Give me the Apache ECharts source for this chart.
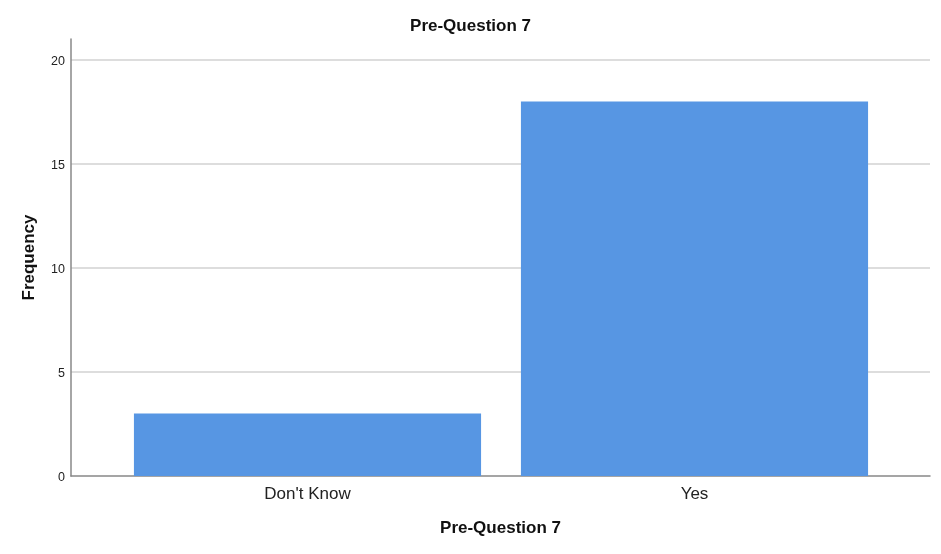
<!DOCTYPE html>
<html>
<head>
<meta charset="utf-8">
<script src="https://cdn.jsdelivr.net/npm/echarts@6/dist/echarts.min.js"></script>
<style>
    html, body {margin: 0; padding: 0; background: #fff;}
    #chart {width: 941px; height: 554px;}
</style>
</head>
<body>
<div id="chart"></div>
<script>
    // 数据
    var categories = ["Don't Know", 'Yes'];
    var frequency = [3, 18];
    var yMax = 21;
    var yStep = 5;

    var fontFamily = "'Liberation Sans', Arial, sans-serif";

    var myChart = echarts.init(document.getElementById('chart'));

    option = {
        backgroundColor: '#ffffff',
        animation: false,
        title: {
            text: 'Pre-Question 7',
            left: 'center',
            top: 13,
            textStyle: {
                fontFamily: fontFamily,
                fontSize: 17,
                fontWeight: 'bold',
                color: '#111'
            }
        },
        grid: [
            // 坐标轴外框
            {left: 71, right: 11, top: 39, bottom: 78},
            // 柱子区域
            {left: 114, right: 53, top: 39, bottom: 78}
        ],
        xAxis: [
            {
                type: 'value',
                gridIndex: 0,
                min: 0,
                max: 1,
                name: 'Pre-Question 7',
                nameLocation: 'middle',
                nameGap: 44,
                nameTextStyle: {
                    fontFamily: fontFamily,
                    fontSize: 17,
                    fontWeight: 'bold',
                    color: '#111'
                },
                axisLine: {show: true, lineStyle: {color: '#888', width: 1.5}},
                axisTick: {show: false},
                axisLabel: {show: false},
                splitLine: {show: false}
            },
            {
                type: 'category',
                gridIndex: 1,
                data: categories,
                axisLine: {show: false},
                axisTick: {show: false},
                axisLabel: {
                    margin: 10,
                    fontFamily: fontFamily,
                    fontSize: 17,
                    color: '#222'
                }
            }
        ],
        yAxis: [
            {
                type: 'value',
                gridIndex: 0,
                min: 0,
                max: yMax,
                interval: yStep,
                name: 'Frequency',
                nameLocation: 'middle',
                nameGap: 33,
                nameTextStyle: {
                    fontFamily: fontFamily,
                    fontSize: 17,
                    fontWeight: 'bold',
                    color: '#111'
                },
                axisLine: {show: true, lineStyle: {color: '#888', width: 1.5}},
                axisTick: {show: false},
                axisLabel: {
                    margin: 6,
                    fontFamily: fontFamily,
                    fontSize: 12.5,
                    color: '#222',
                    verticalAlign: 'top',
                    padding: [-5, 0, 0, 0],
                    formatter: function (v) {
                        return v % yStep === 0 ? v : '';
                    }
                },
                splitLine: {
                    show: true,
                    showMinLine: false,
                    showMaxLine: false,
                    lineStyle: {color: '#d2d2d2', width: 1.5}
                }
            },
            {
                type: 'value',
                gridIndex: 1,
                min: 0,
                max: yMax,
                show: false
            }
        ],
        series: [
            {
                name: 'Frequency',
                type: 'bar',
                xAxisIndex: 1,
                yAxisIndex: 1,
                barCategoryGap: '10.3%',
                itemStyle: {color: '#5796e3'},
                data: frequency
            }
        ]
    };
    myChart.setOption(option);
</script>
</body>
</html>
